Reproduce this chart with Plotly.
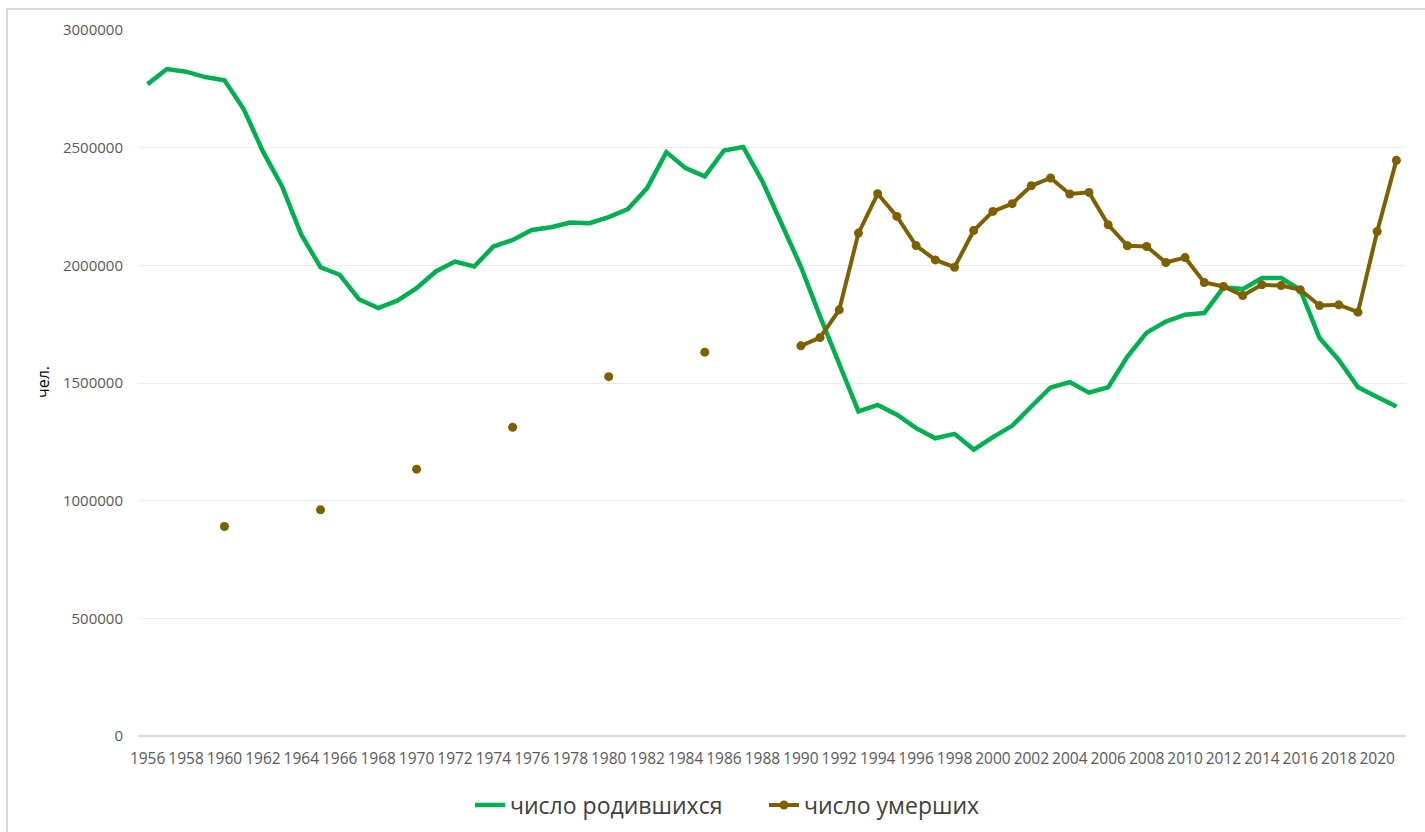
import plotly.graph_objects as go

years = list(range(1956, 2022))

births = [
    2770000, 2834000, 2823000, 2800000, 2786000, 2664000, 2484000, 2335000,
    2130000, 1992000, 1960000, 1856000, 1818000, 1850000, 1903000, 1974000,
    2016000, 1995000, 2080000, 2108000, 2150000, 2162000, 2182000, 2179000,
    2205000, 2239000, 2328000, 2481000, 2413000, 2378000, 2488000, 2503000,
    2357000, 2179000, 1995000, 1783000, 1584000, 1379000, 1407000, 1365000,
    1308000, 1265000, 1284000, 1217000, 1270000, 1318000, 1400000, 1481000,
    1504000, 1459000, 1482000, 1612000, 1714000, 1761000, 1790000, 1797000,
    1906000, 1899000, 1946000, 1946000, 1896000, 1691000, 1598000, 1482000,
    1440000, 1400000,
]

deaths = [
    None, None, None, None, 890000, None, None, None,
    None, 961000, None, None, None, None, 1134000, None,
    None, None, None, 1312000, None, None, None, None,
    1527000, None, None, None, None, 1631000, None, None,
    None, None, 1658000, 1693000, 1811000, 2137000, 2304000, 2208000,
    2084000, 2023000, 1992000, 2148000, 2229000, 2262000, 2338000, 2371000,
    2303000, 2310000, 2172000, 2083000, 2080000, 2012000, 2033000, 1927000,
    1910000, 1872000, 1917000, 1914000, 1896000, 1829000, 1832000, 1801000,
    2144000, 2446000,
]

x_tick_years = list(range(1956, 2021, 2))
y_ticks = [0, 500000, 1000000, 1500000, 2000000, 2500000, 3000000]

name_births = "число родившихся"
name_deaths = "число умерших"
y_title = "чел."

assert len(births) == len(years) == len(deaths)

FONT = "Open Sans, DejaVu Sans, sans-serif"
TICK_FONT = dict(family=FONT, size=15.5, color="#595959")

fig = go.Figure()
fig.add_trace(go.Scatter(
    x=years, y=births, name=name_births, mode="lines",
    line=dict(color="#00B050", width=4.5),
))
fig.add_trace(go.Scatter(
    x=years, y=deaths, name=name_deaths, mode="lines+markers",
    connectgaps=False,
    line=dict(color="#7F6000", width=4),
    marker=dict(color="#7F6000", size=9),
))

fig.update_layout(
    width=1425, height=832,
    margin=dict(l=138, r=19, t=30, b=96),
    paper_bgcolor="white", plot_bgcolor="white",
    showlegend=True,
    legend=dict(
        orientation="h", xref="container", yref="container",
        x=470 / 1425, y=1 - 805 / 832, xanchor="left", yanchor="middle",
        font=dict(family=FONT, size=23, color="#404040"),
        entrywidth=249, entrywidthmode="pixels",
        itemwidth=30, tracegroupgap=0,
    ),
    xaxis=dict(
        range=[1955.5, 2021.5], tickmode="array", tickvals=x_tick_years,
        ticktext=[str(y) for y in x_tick_years],
        showgrid=False, zeroline=False, showline=False, ticks="",
        tickfont=TICK_FONT, tickangle=0, ticklabelstandoff=11,
        fixedrange=True,
    ),
    yaxis=dict(
        range=[0, 3000000], tickmode="array", tickvals=y_ticks,
        ticktext=[str(v) for v in y_ticks],
        showgrid=True, gridcolor="#ececec", gridwidth=1,
        zeroline=True, zerolinecolor="#d9d9d9", zerolinewidth=2,
        showline=False, ticks="", tickfont=dict(family=FONT, size=15, color="#595959"),
        ticklabelstandoff=14,
        fixedrange=True,
    ),
    annotations=[dict(
        text=y_title, textangle=-90, xref="paper", yref="paper",
        x=(43 - 138) / 1268, y=(736 - 382) / 706, xanchor="center", yanchor="middle",
        showarrow=False, font=dict(family=FONT, size=16, color="#000000"),
    )],
    shapes=[dict(
        type="rect", xref="paper", yref="paper",
        x0=(7 - 138) / 1268, x1=(1440 - 138) / 1268,
        y0=(736 - 850) / 706, y1=(736 - 9) / 706,
        line=dict(color="#d9d9d9", width=2), fillcolor="rgba(0,0,0,0)", layer="below",
    )],
)

fig.write_html(
    "out.html",
    config={"displayModeBar": False},
    post_script="document.body.style.margin='0';",
)
